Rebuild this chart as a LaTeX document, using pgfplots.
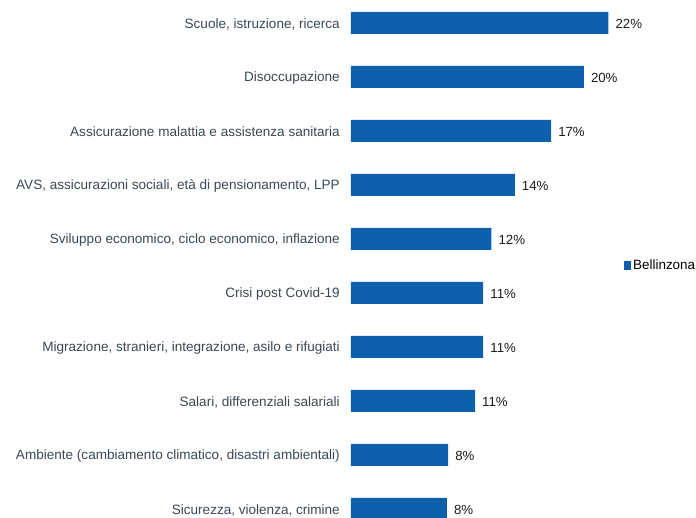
\documentclass[border=0pt]{standalone}
\usepackage{pgfplots}
\pgfplotsset{compat=1.18}
\usepackage{fontspec}
\setmainfont{Liberation Sans}
\definecolor{barblue}{HTML}{0E60AC}
\definecolor{labgray}{HTML}{3B4754}
\definecolor{valblack}{HTML}{1A1A1A}
\begin{document}
\begin{tikzpicture}
\useasboundingbox (0,0) rectangle (696bp,518bp);
\begin{axis}[
  at={(351bp,0bp)}, anchor=south west,
  scale only axis, width=345bp, height=518bp,
  xbar, bar width=22bp,
  xmin=0, xmax=29.49,
  ymin=-0.426, ymax=9.167, y dir=reverse,
  axis line style={draw=none},
  major tick length=0pt,
  xtick=\empty,
  ytick={0,...,9},
  /pgf/number format/assume math mode=true,
  yticklabels={
    {Scuole, istruzione, ricerca},
    {Disoccupazione},
    {Assicurazione malattia e assistenza sanitaria},
    {AVS, assicurazioni sociali, età di pensionamento, LPP},
    {Sviluppo economico, ciclo economico, inflazione},
    {Crisi post Covid-19},
    {Migrazione, stranieri, integrazione, asilo e rifugiati},
    {Salari, differenziali salariali},
    {Ambiente (cambiamento climatico, disastri ambientali)},
    {Sicurezza, violenza, crimine}},
  yticklabel style={font=\fontsize{13.6}{15}\selectfont, text=labgray, anchor=east, inner sep=0pt, xshift=-11bp, yshift=-1bp},
  nodes near coords={\pgfmathprintnumber[fixed,precision=0,assume math mode=true]{\pgfplotspointmeta}\%},
  nodes near coords style={font=\fontsize{13.3}{15}\selectfont, text=valblack, anchor=west, inner sep=0pt, xshift=7bp, yshift=-1bp},
  point meta=explicit,
  clip=true,
  legend style={at={(1.004,0.488)}, anchor=east, draw=none, fill=none, font=\fontsize{13.5}{15}\selectfont, inner sep=0pt,
    legend cell align=left},
  legend image code/.code={\fill[barblue] (0bp,-4.5bp) rectangle (7bp,4.5bp);},
]
\addplot[fill=barblue, draw=none] coordinates {
  (22.0,0) [22]
  (19.9,1) [20]
  (17.1,2) [17]
  (14.0,3) [14]
  (12.0,4) [12]
  (11.3,5) [11]
  (11.3,6) [11]
  (10.6,7) [11]
  (8.3,8) [8]
  (8.2,9) [8]
};
\addlegendentry{Bellinzona}
\end{axis}
\end{tikzpicture}
\end{document}
